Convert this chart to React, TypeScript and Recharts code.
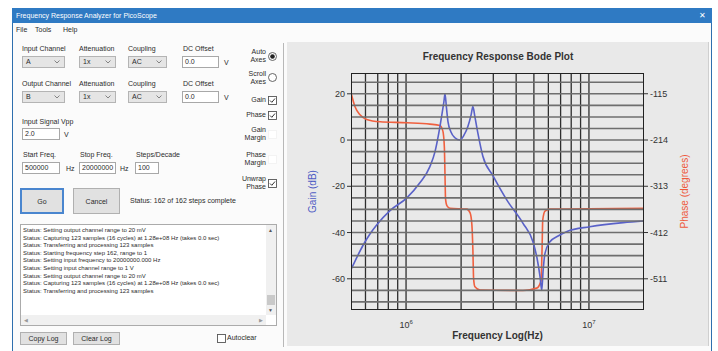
import React from "react";
import { LineChart, Line, XAxis, YAxis, ReferenceLine, Label } from "recharts";

// measured sweep: gain (dB) and unwrapped phase (deg) against frequency (Hz)
const gainFreq = [
  500e3, 540e3, 582e3, 636e3, 694e3, 817e3, 1.01e6, 1.19e6, 1.35e6, 1.44e6,
  1.51e6, 1.57e6, 1.61e6, 1.633e6, 1.663e6, 1.695e6, 1.76e6, 1.85e6, 1.97e6, 2.07e6,
  2.18e6, 2.27e6, 2.32e6, 2.38e6, 2.47e6, 2.63e6, 2.99e6, 3.56e6, 4.36e6, 4.94e6,
  5.2e6, 5.4e6, 5.52e6, 5.61e6, 5.75e6, 6.12e6, 6.78e6, 7.59e6, 10.1e6, 15.4e6,
  20e6,
];
const gainDb = [
  -56, -50.5, -45.5, -40.5, -36.5, -30.5, -25, -18.5, -11.5, -5,
  3, 11, 16.5, 20, 14, 8, 3.5, 1, 0, 2,
  6, 11, 14.5, 10, 3, -7, -15.5, -26, -36, -44,
  -51, -59, -65, -57, -49, -44, -41.5, -39.5, -37.5, -35.7,
  -35,
];
const phaseFreq = [
  500e3, 526e3, 560e3, 609e3, 721e3, 1.01e6, 1.35e6, 1.53e6, 1.59e6, 1.62e6,
  1.633e6, 1.644e6, 1.675e6, 1.74e6, 2.15e6, 2.24e6, 2.29e6, 2.32e6, 2.34e6, 2.38e6,
  2.54e6, 4.36e6, 5.18e6, 5.47e6, 5.54e6, 5.59e6, 5.75e6, 6.12e6, 20e6,
];
const phaseDeg = [
  -113, -143, -160, -170, -175, -177, -180, -183, -195, -230,
  -290, -340, -355, -360, -362, -370, -395, -450, -510, -528,
  -535, -536, -531, -515, -450, -385, -366, -362, -360,
];

const gainLabelled = [20, 0, -20, -40, -60];
const phaseTicks = [-115, -214, -313, -412, -511];
const decadeTicks = [1e6, 1e7];
// horizontal grid every 5 dB; only the 20 dB steps carry a label
const gridDb = [-70, -65, -60, -55, -50, -45, -40, -35, -30, -25, -20, -15, -10, -5, 0, 5, 10, 15, 20, 25];
const gridFreq = [
  6e5, 7e5, 8e5, 9e5, 1e6, 2e6, 3e6, 4e6, 5e6, 6e6, 7e6, 8e6, 9e6, 1e7,
];

const logLines = [
  "Status: Setting output channel range to 20 mV",
  "Status: Capturing 123 samples (16 cycles) at 1.28e+08 Hz (takes 0.0 sec)",
  "Status: Transferring and processing 123 samples",
  "Status: Starting frequency step 162, range to 1",
  "Status: Setting input frequency to 20000000.000 Hz",
  "Status: Setting input channel range to 1 V",
  "Status: Setting output channel range to 20 mV",
  "Status: Capturing 123 samples (16 cycles) at 1.28e+08 Hz (takes 0.0 sec)",
  "Status: Transferring and processing 123 samples",
];

const gainData = gainFreq.map((f, i) => ({ f, v: gainDb[i] }));
const phaseData = phaseFreq.map((f, i) => ({ f, v: phaseDeg[i] }));

const GAIN_DOMAIN: [number, number] = [-73.5, 29];
const PHASE_DOMAIN: [number, number] = [-577.8, -70.6];
const FREQ_DOMAIN: [number, number] = [500000, 20000000];

// plot box inside the 420x305 chart
const CHART_W = 420;
const CHART_H = 305;
const LEFT_AXIS_W = 63;
const RIGHT_AXIS_W = 64;
const PLOT_X0 = LEFT_AXIS_W;
const PLOT_X1 = CHART_W - RIGHT_AXIS_W;

const UI_FONT = "'Liberation Sans', Arial, sans-serif";
const TXT = "#2b2b2b";

function Txt({ x, y, children, size = 7, align = "left", w }: any) {
  return (
    <div
      style={{
        position: "absolute",
        left: align === "right" ? x - (w ?? 60) : x,
        top: y,
        width: align === "right" ? w ?? 60 : undefined,
        textAlign: align,
        fontSize: size,
        lineHeight: `${size + 1}px`,
        color: TXT,
        whiteSpace: "nowrap",
      }}
    >
      {children}
    </div>
  );
}

function Combo({ x, y, w, value }: any) {
  return (
    <div
      style={{
        position: "absolute",
        left: x,
        top: y,
        width: w,
        height: 12,
        boxSizing: "border-box",
        background: "#e5e5e5",
        border: "1px solid #b4b4b4",
        fontSize: 7,
        lineHeight: "10px",
        paddingLeft: 3,
        color: TXT,
      }}
    >
      {value}
      <svg style={{ position: "absolute", right: 4, top: 3 }} width={6} height={4}>
        <polyline points="0.5,0.5 3,3 5.5,0.5" fill="none" stroke="#777" strokeWidth={0.9} />
      </svg>
    </div>
  );
}

function TextBox({ x, y, w, value }: any) {
  return (
    <div
      style={{
        position: "absolute",
        left: x,
        top: y,
        width: w,
        height: 12,
        boxSizing: "border-box",
        background: "#fff",
        border: "1px solid #a8a8a8",
        fontSize: 7,
        lineHeight: "10px",
        paddingLeft: 2,
        color: TXT,
      }}
    >
      {value}
    </div>
  );
}

function Btn({ x, y, w, h, label, focused }: any) {
  return (
    <div
      style={{
        position: "absolute",
        left: x,
        top: y,
        width: w,
        height: h,
        boxSizing: "border-box",
        background: "#e1e1e1",
        border: focused ? "2px solid #4a86cf" : "1px solid #b0b0b0",
        fontSize: 7,
        color: TXT,
        display: "flex",
        alignItems: "center",
        justifyContent: "center",
      }}
    >
      {label}
    </div>
  );
}

function Check({ x, y, checked, faint }: any) {
  return (
    <svg style={{ position: "absolute", left: x, top: y }} width={9} height={9}>
      <rect
        x={0.5}
        y={0.5}
        width={8}
        height={8}
        fill="#fff"
        stroke={faint ? "#f2f2f2" : "#555"}
        strokeWidth={0.9}
      />
      {checked && (
        <polyline points="2,4.5 3.8,6.3 7,2.5" fill="none" stroke="#333" strokeWidth={1} />
      )}
    </svg>
  );
}

function Radio({ x, y, on }: any) {
  return (
    <svg style={{ position: "absolute", left: x, top: y }} width={9} height={9}>
      <circle cx={4.5} cy={4.5} r={4} fill="#fff" stroke="#555" strokeWidth={0.9} />
      {on && <circle cx={4.5} cy={4.5} r={2.3} fill="#222" />}
    </svg>
  );
}

function DecadeTick({ x, y, payload }: any) {
  const exp = Math.round(Math.log10(payload.value));
  return (
    <text x={x} y={y + 10} textAnchor="middle" fontSize={9} fill="#333" fontFamily={UI_FONT}>
      10
      <tspan dy={-4} fontSize={6}>
        {exp}
      </tspan>
    </text>
  );
}

// each gain tick also draws its grid line across the plot
function GainGridTick({ y, payload }: any) {
  const v = payload.value;
  const labelled = gainLabelled.includes(v);
  return (
    <g>
      <line x1={PLOT_X0} x2={PLOT_X1} y1={y} y2={y} stroke="#6e6e6e" strokeWidth={1.6} />
      {labelled && <line x1={PLOT_X0 - 4} x2={PLOT_X0} y1={y} y2={y} stroke="#333" />}
      {labelled && (
        <text x={PLOT_X0 - 6} y={y + 3} textAnchor="end" fontSize={9} fill="#333" fontFamily={UI_FONT}>
          {v}
        </text>
      )}
    </g>
  );
}

function BodePlot() {
  return (
    <LineChart
      width={CHART_W}
      height={CHART_H}
      margin={{ top: 33, right: 0, bottom: 0, left: 0 }}
      style={{ fontFamily: UI_FONT }}
    >
      <XAxis
        dataKey="f"
        type="number"
        scale="log"
        domain={FREQ_DOMAIN}
        allowDataOverflow
        ticks={decadeTicks}
        tick={<DecadeTick />}
        tickLine={false}
        axisLine={false}
        height={35}
      >
        <Label
          content={({ viewBox }: any) => (
            <text
              x={viewBox.x + viewBox.width / 2}
              y={viewBox.y + 29}
              textAnchor="middle"
              fontSize={10}
              fontWeight="bold"
              fill="#333"
            >
              Frequency Log(Hz)
            </text>
          )}
        />
      </XAxis>
      <YAxis
        domain={GAIN_DOMAIN}
        allowDataOverflow
        ticks={gridDb}
        interval={0}
        width={LEFT_AXIS_W}
        tick={<GainGridTick />}
        tickLine={false}
        axisLine={false}
      >
        <Label
          content={({ viewBox }: any) => {
            const cx = viewBox.x + 28;
            const cy = viewBox.y + viewBox.height / 2;
            return (
              <text
                x={cx}
                y={cy}
                transform={`rotate(-90 ${cx} ${cy})`}
                textAnchor="middle"
                fontSize={10}
                fill="#4f5cc4"
              >
                Gain (dB)
              </text>
            );
          }}
        />
      </YAxis>
      <YAxis
        yAxisId="phase"
        orientation="right"
        domain={PHASE_DOMAIN}
        allowDataOverflow
        ticks={phaseTicks}
        interval={0}
        width={RIGHT_AXIS_W}
        tick={{ fontSize: 9, fill: "#333" }}
        tickLine={{ stroke: "#333" }}
        tickSize={4}
        axisLine={false}
      >
        <Label
          content={({ viewBox }: any) => {
            const cx = viewBox.x + 44;
            const cy = viewBox.y + viewBox.height / 2;
            return (
              <text
                x={cx}
                y={cy}
                transform={`rotate(-90 ${cx} ${cy})`}
                textAnchor="middle"
                fontSize={10}
                fill="#ee5a3c"
              >
                Phase (degrees)
              </text>
            );
          }}
        />
      </YAxis>

      {/* 1..9 per decade vertical grid */}
      {gridFreq.map((f) => (
        <ReferenceLine key={`v${f}`} x={f} stroke="#2e2e2e" strokeWidth={1.3} />
      ))}

      <Line
        yAxisId="phase"
        data={phaseData}
        dataKey="v"
        type="monotone"
        stroke="#f0603f"
        strokeWidth={1.6}
        dot={false}
        isAnimationActive={false}
      />
      <Line
        data={gainData}
        dataKey="v"
        type="monotone"
        stroke="#5a62c8"
        strokeWidth={1.6}
        dot={false}
        isAnimationActive={false}
      />
    </LineChart>
  );
}

export default function App() {
  return (
    <div
      style={{
        position: "absolute",
        left: 0,
        top: 0,
        width: 718,
        height: 351,
        background: "#fff",
        overflow: "hidden",
        fontFamily: UI_FONT,
      }}
    >
      {/* window frame */}
      <div
        style={{
          position: "absolute",
          left: 12,
          top: 8,
          width: 700,
          height: 350,
          boxSizing: "border-box",
          border: "1px solid #2f6fae",
          background: "#fbfbfb",
        }}
      />
      {/* title bar */}
      <div
        style={{
          position: "absolute",
          left: 12,
          top: 8,
          width: 700,
          height: 15,
          background: "#2f7ac3",
          color: "#fff",
          fontSize: 7,
          lineHeight: "15px",
        }}
      >
        <span style={{ marginLeft: 4 }}>Frequency Response Analyzer for PicoScope</span>
        <span style={{ position: "absolute", right: 6, fontSize: 8 }}>✕</span>
      </div>
      {/* menu */}
      <Txt x={16} y={26} size={7}>File</Txt>
      <Txt x={35} y={26} size={7}>Tools</Txt>
      <Txt x={63} y={26} size={7}>Help</Txt>

      {/* channel settings */}
      <Txt x={22} y={45}>Input Channel</Txt>
      <Txt x={79} y={45}>Attenuation</Txt>
      <Txt x={128} y={45}>Coupling</Txt>
      <Txt x={183} y={45}>DC Offset</Txt>
      <Combo x={22} y={56} w={43} value="A" />
      <Combo x={79} y={56} w={37} value="1x" />
      <Combo x={128} y={56} w={39} value="AC" />
      <TextBox x={182} y={56} w={37} value="0.0" />
      <Txt x={224} y={59}>V</Txt>

      <Txt x={22} y={80}>Output Channel</Txt>
      <Txt x={79} y={80}>Attenuation</Txt>
      <Txt x={128} y={80}>Coupling</Txt>
      <Txt x={183} y={80}>DC Offset</Txt>
      <Combo x={22} y={91} w={43} value="B" />
      <Combo x={79} y={91} w={37} value="1x" />
      <Combo x={128} y={91} w={39} value="AC" />
      <TextBox x={182} y={91} w={37} value="0.0" />
      <Txt x={224} y={94}>V</Txt>

      <Txt x={22} y={118}>Input Signal Vpp</Txt>
      <TextBox x={22} y={128} w={38} value="2.0" />
      <Txt x={64} y={131}>V</Txt>

      <Txt x={23} y={151}>Start Freq.</Txt>
      <Txt x={80} y={151}>Stop Freq.</Txt>
      <Txt x={136} y={151}>Steps/Decade</Txt>
      <TextBox x={22} y={162} w={38} value="500000" />
      <Txt x={66} y={165}>Hz</Txt>
      <TextBox x={79} y={162} w={37} value="20000000" />
      <Txt x={120} y={165}>Hz</Txt>
      <TextBox x={135} y={162} w={24} value="100" />

      <Btn x={20} y={188} w={44} h={26} label="Go" focused />
      <Btn x={73} y={188} w={47} h={26} label="Cancel" />
      <Txt x={130} y={197}>Status: 162 of 162 steps complete</Txt>

      {/* display options */}
      <Txt x={266} y={48} align="right" w={40}>Auto<br />Axes</Txt>
      <Radio x={268} y={52} on />
      <Txt x={266} y={70} align="right" w={40}>Scroll<br />Axes</Txt>
      <Radio x={268} y={73} />
      <Txt x={266} y={96} align="right" w={40}>Gain</Txt>
      <Check x={268} y={96} checked />
      <Txt x={266} y={111} align="right" w={40}>Phase</Txt>
      <Check x={268} y={111} checked />
      <Txt x={266} y={126} align="right" w={40}>Gain<br />Margin</Txt>
      <Check x={268} y={130} faint />
      <Txt x={266} y={151} align="right" w={40}>Phase<br />Margin</Txt>
      <Check x={268} y={155} faint />
      <Txt x={266} y={175} align="right" w={40}>Unwrap<br />Phase</Txt>
      <Check x={268} y={179} checked />

      {/* status log */}
      <div
        style={{
          position: "absolute",
          left: 20,
          top: 224,
          width: 257,
          height: 102,
          boxSizing: "border-box",
          border: "1px solid #ababab",
          background: "#fff",
        }}
      >
        <div style={{ position: "absolute", left: 2, top: 2 }}>
          {logLines.map((l, i) => (
            <div key={i} style={{ fontSize: 6, lineHeight: "7.6px", color: TXT, whiteSpace: "nowrap" }}>
              {l}
            </div>
          ))}
        </div>
        {/* vertical scrollbar */}
        <div style={{ position: "absolute", right: 0, top: 0, width: 10, height: 90, background: "#f0f0f0" }}>
          <div style={{ position: "absolute", left: 2, top: 2, fontSize: 5, color: "#555" }}>▲</div>
          <div style={{ position: "absolute", left: 1, top: 70, width: 8, height: 10, background: "#c9c9c9" }} />
          <div style={{ position: "absolute", left: 2, top: 82, fontSize: 5, color: "#555" }}>▼</div>
        </div>
        {/* horizontal scrollbar */}
        <div style={{ position: "absolute", left: 0, bottom: 0, width: 245, height: 10, background: "#f0f0f0" }}>
          <div style={{ position: "absolute", left: 3, top: 2, fontSize: 5, color: "#999" }}>◀</div>
          <div style={{ position: "absolute", right: 3, top: 2, fontSize: 5, color: "#999" }}>▶</div>
        </div>
      </div>

      <Btn x={20} y={332} w={47} h={13} label="Copy Log" />
      <Btn x={73} y={332} w={47} h={13} label="Clear Log" />
      <Check x={217} y={334} />
      <Txt x={227} y={334}>Autoclear</Txt>

      {/* divider */}
      <div style={{ position: "absolute", left: 283, top: 43, width: 1, height: 304, background: "#b8b8b8" }} />

      {/* chart panel */}
      <div
        style={{
          position: "absolute",
          left: 287,
          top: 42,
          width: 421,
          height: 304,
          background: "#e9e9e9",
          borderRight: "1px solid #cfcfcf",
        }}
      />
      <div
        style={{
          position: "absolute",
          left: 288,
          top: 51,
          width: 420,
          textAlign: "center",
          fontSize: 10,
          fontWeight: "bold",
          color: "#333",
        }}
      >
        Frequency Response Bode Plot
      </div>
      <div style={{ position: "absolute", left: 288, top: 40 }}>
        <BodePlot />
      </div>
      {/* plot frame */}
      <div
        style={{
          position: "absolute",
          left: 288 + PLOT_X0,
          top: 73,
          width: PLOT_X1 - PLOT_X0,
          height: 237,
          boxSizing: "border-box",
          border: "1px solid #222",
          pointerEvents: "none",
        }}
      />
    </div>
  );
}
